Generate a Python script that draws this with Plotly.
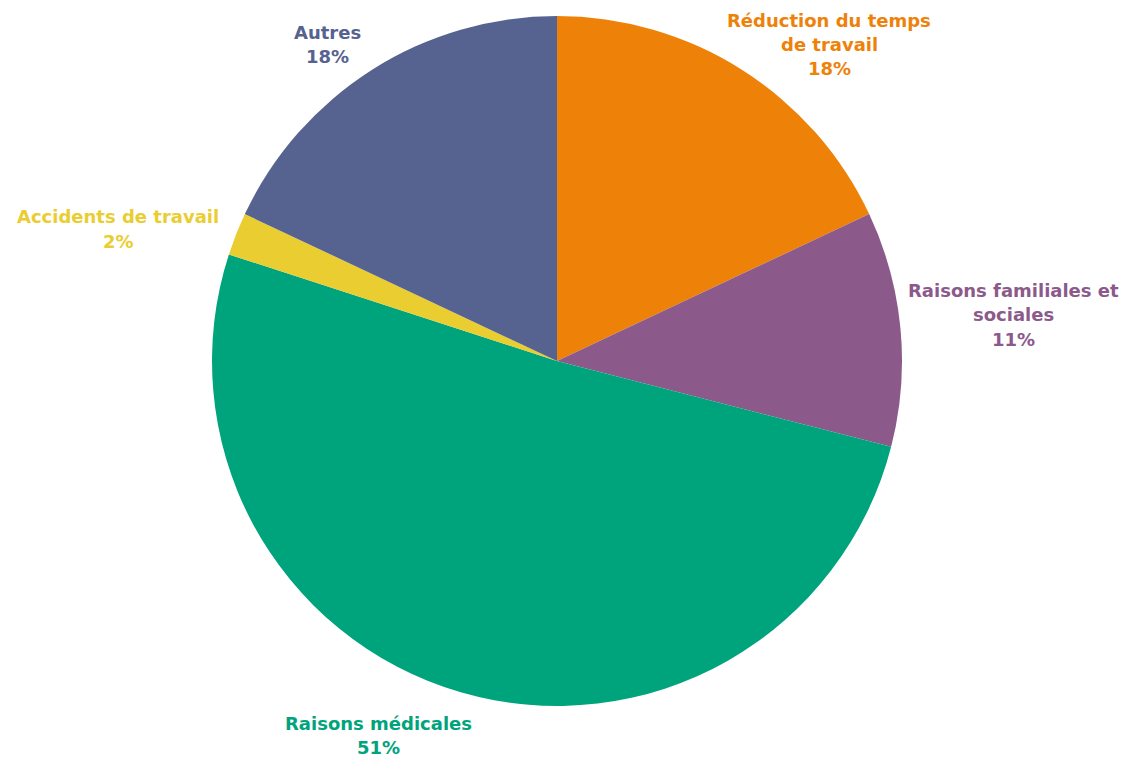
import plotly.graph_objects as go

# Répartition des motifs (en %)
categories = [
    "Réduction du temps de travail",
    "Raisons familiales et sociales",
    "Raisons médicales",
    "Accidents de travail",
    "Autres",
]
values = [18, 11, 51, 2, 18]
colors = ["#EE8209", "#8B5A8B", "#00A47C", "#EACD30", "#56628F"]

# Texte des étiquettes (avec retours à la ligne)
label_lines = [
    ["Réduction du temps", "de travail"],
    ["Raisons familiales et", "sociales"],
    ["Raisons médicales"],
    ["Accidents de travail"],
    ["Autres"],
]
# Position (px) du centre de la première ligne de chaque étiquette
label_pos = [(829, 20), (1013, 290), (378, 723), (118, 217), (328, 32)]

W, H = 1131, 757
cx, cy, r = 557, 361, 345

fig = go.Figure(
    go.Pie(
        labels=categories,
        values=values,
        sort=False,
        direction="clockwise",
        rotation=0,
        marker=dict(colors=colors, line=dict(width=0)),
        textinfo="none",
        hoverinfo="label+percent",
        showlegend=False,
        domain=dict(
            x=[(cx - r) / W, (cx + r) / W],
            y=[(H - cy - r) / H, (H - cy + r) / H],
        ),
    )
)

annotations = []
line_gap = 24.5
for lines, v, (x, y), c in zip(label_lines, values, label_pos, colors):
    for i, t in enumerate(lines + [f"{v}%"]):
        annotations.append(
            dict(
                x=x / W,
                y=1 - (y + i * line_gap) / H,
                xref="paper",
                yref="paper",
                text=f"<b>{t}</b>",
                showarrow=False,
                xanchor="center",
                yanchor="middle",
                borderpad=0,
                font=dict(family="DejaVu Sans", size=18, color=c),
            )
        )

fig.update_layout(
    width=W,
    height=H,
    margin=dict(l=0, r=0, t=0, b=0),
    paper_bgcolor="white",
    plot_bgcolor="white",
    annotations=annotations,
)

fig.write_html("out.html")
